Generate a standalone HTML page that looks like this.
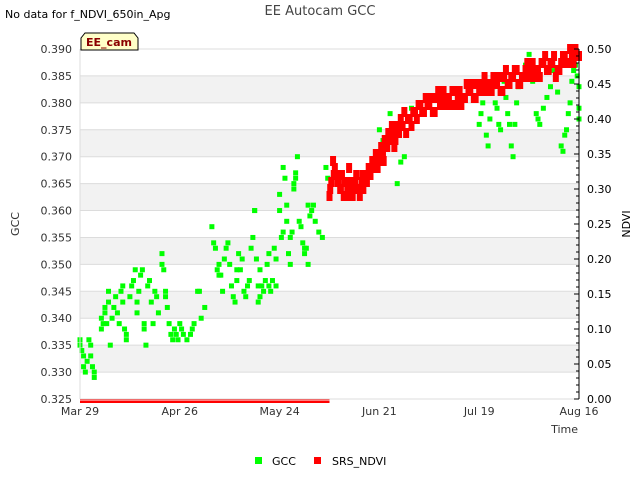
<!DOCTYPE html>
<html><head><meta charset="utf-8"><style>
body{margin:0;background:#fff;font-family:"DejaVu Sans","Liberation Sans",sans-serif;}
svg text{font-family:"DejaVu Sans","Liberation Sans",sans-serif;}
</style></head><body>
<svg id="chart" width="640" height="480" xmlns="http://www.w3.org/2000/svg">
<text x="5" y="18" font-size="11" fill="#000">No data for f_NDVI_650in_Apg</text>
<text x="320" y="15" font-size="13" fill="#444" text-anchor="middle">EE Autocam GCC</text>
<g id="bands"></g>
<g id="marks"></g>
<g id="axes"></g>
<g>
<path d="M81,50 L81,38 L85,33 L134,33 L138,38 L138,50 Z" fill="#ffffc8" stroke="#000"/>
<text x="109" y="46" font-size="11" font-weight="bold" fill="#8b0000" text-anchor="middle">EE_cam</text>
</g>
<text x="19" y="224" font-size="11" fill="#333" text-anchor="middle" transform="rotate(-90 19 224)">GCC</text>
<text x="630" y="224" font-size="11" fill="#000" text-anchor="middle" transform="rotate(-90 630 224)">NDVI</text>
<text x="578" y="433" font-size="11" fill="#333" text-anchor="end">Time</text>
<g><rect x="255" y="457" width="7" height="7" fill="#00ff00"/><text x="272" y="465" font-size="11" fill="#000">GCC</text></g>
<g><rect x="314" y="457" width="7" height="7" fill="#ff0000"/><text x="332" y="465" font-size="11" fill="#000">SRS_NDVI</text></g>
</svg>
<script>
const xTickLabels=["Mar 29","Apr 26","May 24","Jun 21","Jul 19","Aug 16"];
const xTickDays=[0,28,56,84,112,140];
const gccTicks=[0.325,0.330,0.335,0.340,0.345,0.350,0.355,0.360,0.365,0.370,0.375,0.380,0.385,0.390];
const ndviTicks=[0,0.05,0.1,0.15,0.2,0.25,0.3,0.35,0.4,0.45,0.5];
const gccDays=[0,0,0.5,1,1,1.5,2,2.5,3,3,3.5,4,4,
6,6,6.5,7,7,7.5,8,8,8.5,
9,9.5,10,10.5,11,11.5,12,12,12.5,13,13,
14,14.5,15,15.5,16,16,16.5,17,17.5,18,18,18.5,
19,19.5,20,20.5,21,21.5,22,
23,23,23.5,24,24,24.5,
25,25.5,26,26.5,27,27.5,28,28.5,29,30,31,31.5,32,
33,33.5,34,35,
37,37.5,38,38.5,39,39,39.5,40,
40.5,41,41.5,42,42.5,43,43.5,44,44,44.5,
45,45.5,46,46.5,47,47.5,48,48.5,49,49,49.5,50,50,50.5,50.5,
51,51.5,52,52.5,53,53,53.5,54,54.5,55,55,
56,56,56.5,57,57,57.5,58,58,58.5,59,59,59.5,60,60,60.5,60.5,
61,61.5,62,62.5,63,63,63.5,64,64,64.5,65,
65.5,66,67,68,69,69.5,
84,85,86,87,88,89,90,91,92,93,
112,112.5,113,113.5,114,114.5,115,116,116.5,117,117.5,118,119,119.5,120,120.5,121,121.5,122,122.5,123,124,125,126,126.5,127,128,128.5,129,130,131,132,133,133.5,134,135,135.5,136,136.5,137,137.5,138,138.5,139,139.5,140,140,140];
const gccVals=[0.336,0.335,0.334,0.333,0.331,0.330,0.332,0.336,0.335,0.333,0.331,0.330,0.329,
0.340,0.338,0.339,0.342,0.341,0.339,0.345,0.343,0.335,
0.340,0.342,0.344,0.341,0.339,0.345,0.343,0.346,0.338,0.337,0.336,
0.344,0.346,0.347,0.349,0.343,0.341,0.345,0.348,0.349,0.339,0.338,0.335,
0.346,0.347,0.343,0.339,0.345,0.344,0.341,
0.350,0.352,0.349,0.344,0.345,0.342,
0.339,0.337,0.336,0.338,0.337,0.336,0.339,0.338,0.337,0.336,0.337,0.338,0.339,
0.345,0.345,0.340,0.342,
0.357,0.354,0.353,0.349,0.348,0.350,0.348,0.345,
0.351,0.353,0.354,0.350,0.346,0.344,0.343,0.347,0.349,0.352,
0.349,0.351,0.345,0.344,0.346,0.347,0.353,0.355,0.360,0.360,0.351,0.346,0.343,0.344,0.349,
0.346,0.345,0.347,0.350,0.352,0.346,0.345,0.347,0.353,0.351,0.346,
0.363,0.360,0.355,0.356,0.368,0.366,0.361,0.358,0.352,0.350,0.355,0.356,0.365,0.364,0.366,0.367,
0.370,0.358,0.357,0.354,0.353,0.352,0.353,0.350,0.361,0.359,0.360,
0.361,0.358,0.356,0.355,0.368,0.366,
0.375,0.373,0.372,0.378,0.376,0.365,0.369,0.370,0.377,0.379,
0.376,0.378,0.380,0.382,0.374,0.372,0.377,0.383,0.380,0.379,0.376,0.375,0.384,0.381,0.378,0.376,0.372,0.370,0.376,0.380,0.383,0.385,0.387,0.389,0.386,0.384,0.378,0.377,0.376,0.379,0.381,0.383,0.386,0.385,0.382,0.372,0.371,0.374,0.375,0.378,0.380,0.384,0.386,0.387,0.385,0.383,0.379,0.377];
const ndviDays=[70,70.5,71,71.5,72,72.5,73,73.5,74,74.5,75,75.5,76,76.5,77,77.5,78,78.5,79,79.5,80,80.5,81,81.5,82,82.5,83,83.5,84,84.5,85,85.5,86,86.5,87,87.5,88,88.5,89,89.5,90,90.5,91,92,93,94,95,96,97,98,99,100,101,102,103,104,105,106,107,108,109,110,111,112,113,114,115,116,117,118,119,120,121,122,123,124,125,126,127,128,129,130,131,132,133,134,135,136,137,138,139,140,
70.2,71.2,72.2,73.2,74.2,75.2,76.2,77.2,78.2,79.2,80.2,81.2,82.2,83.2,84.2,85.2,86.2,87.2,88.2,89.2,90.2,91.5,92.5,93.5,94.5,95.5,96.5,97.5,98.5,99.5,100.5,101.5,102.5,103.5,104.5,105.5,106.5,107.5,108.5,109.5,110.5,111.5,112.5,113.5,114.5,115.5,116.5,117.5,118.5,119.5,120.5,121.5,122.5,123.5,124.5,125.5,126.5,127.5,128.5,129.5,130.5,131.5,132.5,133.5,134.5,135.5,136.5,137.5,138.5,139.5];
const ndviVals=[0.29,0.31,0.34,0.33,0.32,0.31,0.30,0.32,0.29,0.31,0.30,0.33,0.31,0.29,0.30,0.32,0.30,0.29,0.31,0.30,0.32,0.31,0.33,0.32,0.34,0.33,0.35,0.33,0.34,0.36,0.35,0.37,0.36,0.38,0.37,0.39,0.38,0.37,0.39,0.38,0.40,0.39,0.41,0.40,0.39,0.41,0.42,0.41,0.43,0.42,0.41,0.43,0.42,0.44,0.43,0.42,0.44,0.43,0.42,0.43,0.44,0.45,0.43,0.44,0.45,0.44,0.45,0.46,0.45,0.44,0.46,0.45,0.46,0.47,0.45,0.46,0.47,0.46,0.48,0.47,0.46,0.48,0.47,0.48,0.49,0.47,0.48,0.49,0.48,0.49,0.50,0.49,
0.30,0.32,0.31,0.30,0.31,0.29,0.30,0.31,0.30,0.32,0.31,0.32,0.33,0.34,0.35,0.34,0.36,0.37,0.36,0.38,0.39,0.38,0.40,0.41,0.40,0.42,0.41,0.42,0.43,0.41,0.44,0.43,0.42,0.43,0.44,0.42,0.44,0.43,0.45,0.44,0.43,0.45,0.44,0.46,0.45,0.44,0.45,0.46,0.44,0.47,0.45,0.46,0.47,0.45,0.46,0.48,0.47,0.46,0.47,0.48,0.49,0.47,0.48,0.46,0.47,0.49,0.48,0.50,0.48,0.49];
const ndviFlatStart=[0];
const ndviFlatEnd=[70];

const X0=80,X1=579,Y0=399,Y1=49,NS="http://www.w3.org/2000/svg";
function xS(d){return X0+(d-0)/(140-0)*(X1-X0);}
function yG(v){return Y0-(v-0.325)/(0.390-0.325)*(Y0-Y1);}
function yN(v){return Y0-(v-0)/(0.5-0)*(Y0-Y1);}
function mk(tag,at,parent){const e=document.createElementNS(NS,tag);for(const k in at)e.setAttribute(k,at[k]);parent.appendChild(e);return e;}
const bands=document.getElementById('bands'),marks=document.getElementById('marks'),axes=document.getElementById('axes');
mk('rect',{x:X0,y:Y1,width:X1-X0,height:Y0-Y1,fill:'#fff'},bands);
for(let i=0;i<gccTicks.length-1;i++){
  if((gccTicks.length-2-i)%2===1){
    const r=mk('rect',{x:X0,y:yG(gccTicks[i+1]),width:X1-X0,height:yG(gccTicks[i])-yG(gccTicks[i+1]),fill:'#f2f2f2'},bands);
    
    
  }
}
gccTicks.forEach(t=>{
  const l=mk('line',{x1:X0,x2:X1,y1:yG(t),y2:yG(t),stroke:'#dcdcdc'},bands);
  
  
  const tx=mk('text',{x:X0-8,y:yG(t)+4,'font-size':11,fill:'#333','text-anchor':'end'},axes);
  tx.textContent=t.toFixed(3);
  
  
});
mk('line',{x1:X0,x2:X0,y1:Y1,y2:Y0,stroke:'#dcdcdc'},axes);
mk('line',{x1:X0,x2:X1,y1:Y0,y2:Y0,stroke:'#dcdcdc'},axes);
mk('line',{x1:X1,x2:X1,y1:Y1,y2:Y0,stroke:'#000'},axes);
for(let v=0;v<=0.5001;v+=0.01){mk('line',{x1:X1-3,x2:X1,y1:yN(v),y2:yN(v),stroke:'#000'},axes);}
ndviTicks.forEach(t=>{
  mk('line',{x1:X1-5,x2:X1,y1:yN(t),y2:yN(t),stroke:'#000'},axes);
  const tx=mk('text',{x:X1+8,y:yN(t)+4,'font-size':11,fill:'#000'},axes);
  tx.textContent=t.toFixed(2);
  
  
});
xTickDays.forEach((d,i)=>{
  const tx=mk('text',{x:xS(d),y:415,'font-size':11,fill:'#333','text-anchor':'middle'},axes);
  tx.textContent=xTickLabels[i];
  
  
});
gccDays.forEach((d,i)=>{
  const r=mk('rect',{x:xS(d)-2.5,y:yG(gccVals[i])-2.5,width:5,height:5,fill:'#00ff00'},marks);
  
  
});
ndviFlatStart.forEach((s,i)=>{
  [Y0+0.5,Y0+3].forEach(yy=>{
    const l=mk('line',{x1:xS(s),x2:xS(ndviFlatEnd[i]),y1:yy,y2:yy,stroke:'#ff0000','stroke-width':2},marks);
    
    
  });
});
ndviDays.forEach((d,i)=>{
  const r=mk('rect',{x:xS(d)-3,y:yN(ndviVals[i])-5,width:6,height:10,fill:'#ff0000'},marks);
  
  
});
</script>
</body></html>
